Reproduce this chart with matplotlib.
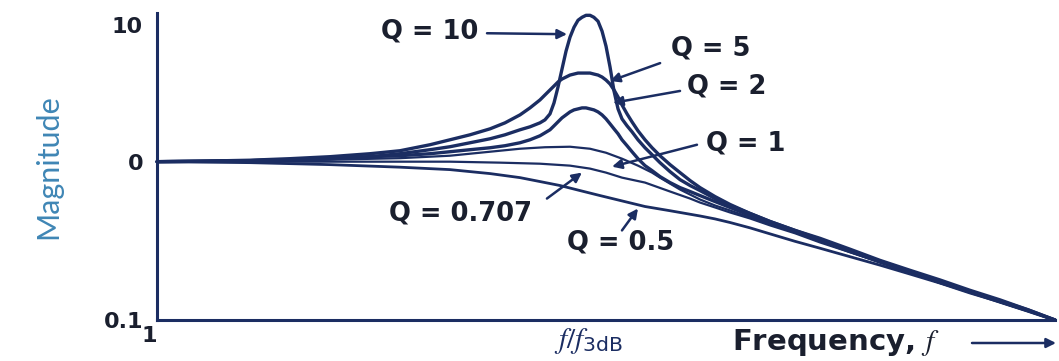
import numpy as np
import matplotlib
matplotlib.use("Agg")
import matplotlib.pyplot as plt
from matplotlib.patches import FancyArrowPatch
from matplotlib.ticker import NullLocator

# --------------------------------------------------
# Data : second-order response, magnitude vs frequency
# --------------------------------------------------

# shared frequency grid for the peaked curves (dense around f3dB = 10)
freq = [1.0, 1.258, 1.644, 2.035, 2.52, 3.121, 3.663, 4.299, 4.783, 5.323,
        5.925, 6.418, 6.953, 7.334, 7.736, 7.946, 8.162, 8.339, 8.519, 8.703,
        8.892, 9.083, 9.28, 9.48, 9.685, 9.894, 10.11, 10.32, 10.55, 10.78,
        11.01, 11.25, 11.49, 11.74, 11.99, 12.32, 12.65, 13.06, 13.56, 14.08,
        14.69, 15.5, 16.35, 17.25, 18.19, 19.71, 21.35, 23.76, 26.44, 30.22,
        34.54, 40.55, 47.6, 55.87, 65.58, 76.98, 90.33, 104.9, 121.2]

mag_q10 = [1.0, 1.008, 1.017, 1.034, 1.052, 1.088, 1.144, 1.224, 1.287, 1.376,
           1.472, 1.574, 1.713, 1.801, 1.926, 2.026, 2.240, 2.696, 3.527, 4.773,
           6.459, 8.175, 9.670, 10.88, 11.44, 11.83, 11.83, 11.44, 10.70, 9.042,
           7.027, 4.936, 3.298, 2.437, 2.060, 1.831, 1.656, 1.447, 1.265, 1.125,
           0.986, 0.865, 0.770, 0.707, 0.657, 0.585, 0.529, 0.471, 0.419, 0.368,
           0.323, 0.276, 0.235, 0.203, 0.176, 0.152, 0.132, 0.116, 0.1]

mag_q5 = [1.0, 1.008, 1.025, 1.052, 1.088, 1.144, 1.203, 1.331, 1.447, 1.574,
          1.741, 1.926, 2.203, 2.479, 2.835, 3.084, 3.354, 3.587, 3.837, 4.035,
          4.173, 4.315, 4.389, 4.463, 4.463, 4.463, 4.463, 4.389, 4.315, 4.173,
          3.967, 3.709, 3.354, 2.982, 2.607, 2.240, 1.959, 1.684, 1.447, 1.265,
          1.106, 0.958, 0.853, 0.760, 0.686, 0.602, 0.537, 0.471, 0.419, 0.368,
          0.328, 0.280, 0.238, 0.206, 0.179, 0.154, 0.134, 0.116, 0.1]

mag_q2 = [1.0, 1.008, 1.017, 1.034, 1.052, 1.088, 1.106, 1.144, 1.183, 1.224,
          1.265, 1.309, 1.376, 1.447, 1.548, 1.628, 1.713, 1.831, 1.959, 2.095,
          2.203, 2.317, 2.397, 2.437, 2.479, 2.479, 2.437, 2.397, 2.317, 2.203,
          2.060, 1.894, 1.741, 1.601, 1.447, 1.309, 1.183, 1.052, 0.944, 0.878,
          0.805, 0.738, 0.686, 0.648, 0.611, 0.560, 0.514, 0.457, 0.413, 0.363,
          0.319, 0.272, 0.232, 0.200, 0.173, 0.150, 0.130, 0.114, 0.1]

freq_q1 = [1.0, 1.644, 2.52, 3.663, 4.783, 5.925, 6.953, 7.946, 9.083, 10.11,
           11.01, 11.99, 13.06, 14.08, 14.69, 15.5, 16.35, 17.25, 18.19, 19.71,
           21.35, 23.76, 26.44, 30.22, 34.54, 40.55, 47.6, 55.87, 65.58, 76.98,
           90.33, 104.9, 121.2]
mag_q1 = [1.0, 1.017, 1.034, 1.061, 1.106, 1.183, 1.244, 1.276, 1.287, 1.244,
          1.163, 1.052, 0.944, 0.853, 0.793, 0.727, 0.667, 0.620, 0.577, 0.529,
          0.492, 0.444, 0.402, 0.358, 0.314, 0.268, 0.232, 0.200, 0.171, 0.150,
          0.130, 0.114, 0.1]

freq_q0707 = [1.0, 2.52, 4.783, 6.25, 7.736, 9.083, 10.11, 11.01, 11.99, 13.56,
              15.5, 17.25, 18.19, 19.71, 21.35, 23.76, 26.44, 30.22, 34.54, 40.55,
              47.6, 55.87, 65.58, 76.98, 90.33, 104.9, 121.2]
mag_q0707 = [1.0, 1.0, 1.0, 0.986, 0.971, 0.944, 0.904, 0.853, 0.793, 0.738,
             0.648, 0.585, 0.552, 0.514, 0.478, 0.438, 0.396, 0.353, 0.309, 0.268,
             0.232, 0.200, 0.173, 0.150, 0.130, 0.114, 0.1]

freq_q05 = [1.0, 1.644, 2.52, 3.663, 4.783, 5.925, 6.953, 7.736, 8.61, 9.58,
            10.66, 11.87, 13.56, 15.5, 18.19, 19.71, 21.35, 23.76, 26.44, 30.22,
            34.54, 40.55, 47.6, 55.87, 65.58, 76.98, 90.33, 104.9, 121.2]
mag_q05 = [1.0, 0.986, 0.958, 0.923, 0.891, 0.841, 0.793, 0.749, 0.707, 0.657,
           0.611, 0.569, 0.521, 0.490, 0.454, 0.435, 0.413, 0.382, 0.350, 0.314,
           0.284, 0.251, 0.222, 0.195, 0.171, 0.148, 0.130, 0.114, 0.1]

curves = [
    (freq, mag_q10, 2.4),
    (freq, mag_q5, 2.4),
    (freq, mag_q2, 2.4),
    (freq_q1, mag_q1, 1.6),
    (freq_q0707, mag_q0707, 1.6),
    (freq_q05, mag_q05, 2.0),
]

y_ticks = [0.1, 1, 10]
y_ticklabels = ["0.1", "0", "10"]
x_ticks = [1, 10]
x_ticklabels = ["1", r"$f/f_{\mathsf{3dB}}$"]

NAVY = "#1b2d62"
INK = "#1a1f2e"
UP = 137 / 159  # upper decade drawn a little shorter than the lower one


def fwd(m):
    l = np.log10(np.clip(m, 1e-12, None))
    return np.where(l > 0, l * UP, l)


def inv(v):
    return np.where(v > 0, 10 ** (v / UP), 10 ** v)


plt.rcParams["mathtext.fontset"] = "custom"
plt.rcParams["mathtext.it"] = "STIXGeneral:italic"
plt.rcParams["mathtext.rm"] = "STIXGeneral"
plt.rcParams["mathtext.sf"] = "DejaVu Sans"

fig = plt.figure(figsize=(10.59, 3.61), dpi=100)
ax = fig.add_axes([157 / 1059, 1 - 320 / 361, 898 / 1059, 307 / 361])

for f, mag, lw in curves:
    ax.plot(f, mag, color=NAVY, lw=lw, solid_capstyle="round",
            solid_joinstyle="round", clip_on=False)

ax.set_xscale("log")
ax.set_yscale("function", functions=(fwd, inv))
ax.set_xlim(1, 121.2)
ax.set_ylim(0.1, 12.3)

ax.set_yticks(y_ticks)
ax.set_yticklabels(y_ticklabels)
ax.yaxis.set_minor_locator(NullLocator())
ax.set_xticks(x_ticks)
ax.set_xticklabels(x_ticklabels)
ax.xaxis.set_minor_locator(NullLocator())

for lab in ax.get_yticklabels():
    lab.set_fontweight("bold")
    lab.set_fontsize(16)
    lab.set_color(INK)
xl = ax.get_xticklabels()
xl[0].set_fontweight("bold")
xl[0].set_fontsize(16)
xl[0].set_color(INK)
xl[0].set_horizontalalignment("right")
xl[1].set_fontsize(21)
xl[1].set_color(NAVY)

ax.tick_params(axis="y", length=0, pad=10)
ax.tick_params(axis="x", length=0, pad=4)

for side in ["top", "right"]:
    ax.spines[side].set_visible(False)
for side in ["left", "bottom"]:
    ax.spines[side].set_color(NAVY)
    ax.spines[side].set_linewidth(2.2)

ax.set_ylabel("Magnitude", fontsize=22, color="#3f86b5", family="Lato",
              labelpad=30)

# --------------------------------------------------
# Labels with arrows
# --------------------------------------------------

lab_kw = dict(fontsize=18.5, fontweight="bold", color=INK,
              ha="center", va="center")
arr_kw = dict(arrowstyle="-|>", color=NAVY, lw=1.8, mutation_scale=14,
              shrinkA=0, shrinkB=0)

ax.text(4.3, 9.04, "Q = 10", **lab_kw)
ax.annotate("", xy=(8.94, 8.6), xytext=(5.83, 8.74), arrowprops=arr_kw)

ax.text(19.3, 6.79, "Q = 5", **lab_kw)
ax.annotate("", xy=(11.25, 3.90), xytext=(14.7, 5.28), arrowprops=arr_kw)

ax.text(21.0, 3.53, "Q = 2", **lab_kw)
ax.annotate("", xy=(11.43, 2.70), xytext=(16.35, 3.30), arrowprops=arr_kw)

ax.text(23.2, 1.353, "Q = 1", **lab_kw)
ax.annotate("", xy=(11.37, 0.930), xytext=(17.9, 1.331), arrowprops=arr_kw)

ax.text(5.05, 0.471, "Q = 0.707", **lab_kw)
ax.annotate("", xy=(9.68, 0.853), xytext=(8.03, 0.585), arrowprops=arr_kw)

ax.text(11.87, 0.3094, "Q = 0.5", **lab_kw)
ax.annotate("", xy=(13.06, 0.506), xytext=(11.99, 0.368), arrowprops=arr_kw)

# axis name under the bottom right
fig.text(732 / 1059, 1 - 343 / 361, r"Frequency, $f$", fontsize=21,
         fontweight="bold", color=INK, ha="left", va="center")
fig.patches.append(FancyArrowPatch(
    (972 / 1059, 1 - 343 / 361), (1056 / 1059, 1 - 343 / 361),
    transform=fig.transFigure, arrowstyle="-|>", color=NAVY, lw=1.8,
    mutation_scale=14, shrinkA=0, shrinkB=0))

plt.savefig("out.png", dpi=100)
